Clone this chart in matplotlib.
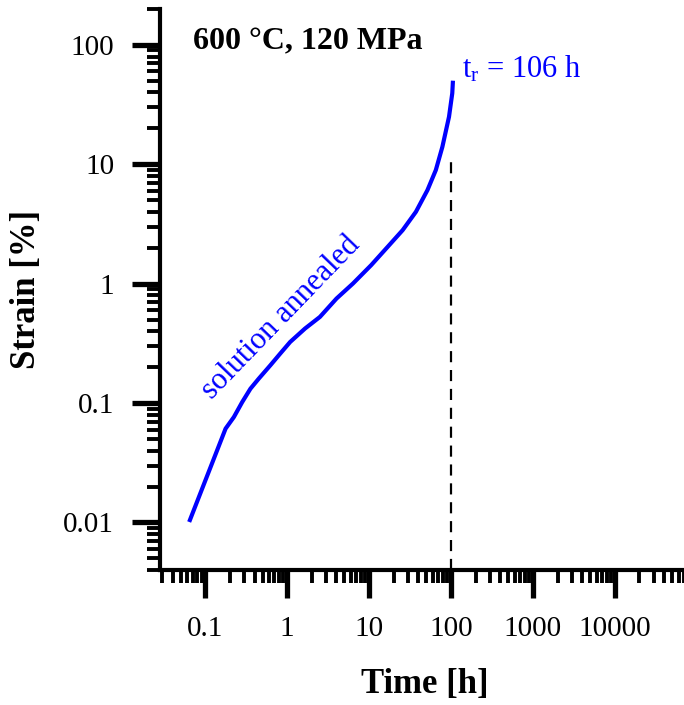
import numpy as np
import matplotlib
matplotlib.use("Agg")
import matplotlib.pyplot as plt
from matplotlib.ticker import FixedLocator, LogLocator, NullFormatter

plt.rcParams['font.family'] = ['Liberation Serif', 'DejaVu Serif']
plt.rcParams['mathtext.fontset'] = 'custom'
plt.rcParams['mathtext.rm'] = 'Liberation Serif'

# creep curve: time [h], strain [%]
time_h = [0.0636, 0.177, 0.2235, 0.2825, 0.356, 0.449, 0.622,
          0.823, 1.087, 1.65, 2.51, 4.0, 6.36, 10.6, 16.9, 25.7, 37.3, 51.6,
          65.3, 78.5, 94.6, 103.7, 105.7]
strain = [0.0101, 0.0611, 0.0764, 0.102, 0.132, 0.160, 0.207,
          0.260, 0.325, 0.421, 0.527, 0.751, 1.004, 1.43, 2.04, 2.81, 4.0, 6.08,
          8.95, 14.0, 25.0, 39.4, 50.2]
rupture_time = 100
rupture_line_top = 12

x_ticks = [0.1, 1, 10, 100, 1000, 10000]
x_labels = ['0.1', '1', '10', '100', '1000', '10000']
y_ticks = [0.01, 0.1, 1, 10, 100]
y_labels = ['0.01', '0.1', '1', '10', '100']

fig = plt.figure(figsize=(6.84, 7.05), dpi=100)
ax = fig.add_axes([0.2339, 0.1915, 0.7661, 0.7957])

ax.plot(time_h, strain, color='#0000ff', lw=3, solid_capstyle='butt',
        solid_joinstyle='round')
ax.plot([rupture_time, rupture_time], [0.004, rupture_line_top], color='black',
        lw=1.6, dashes=(5, 3.5))

ax.set_xscale('log')
ax.set_yscale('log')
ax.set_xlim(0.028, 7e4)
ax.set_ylim(0.004, 200)

ax.xaxis.set_major_locator(FixedLocator(x_ticks))
ax.set_xticklabels(x_labels)
ax.yaxis.set_major_locator(FixedLocator(y_ticks))
ax.set_yticklabels(y_labels)
ax.xaxis.set_minor_locator(LogLocator(base=10, subs=np.arange(2, 10), numticks=20))
ax.yaxis.set_minor_locator(LogLocator(base=10, subs=np.arange(2, 10), numticks=20))
ax.xaxis.set_minor_formatter(NullFormatter())
ax.yaxis.set_minor_formatter(NullFormatter())

for s in ['top', 'right']:
    ax.spines[s].set_visible(False)
for s in ['left', 'bottom']:
    ax.spines[s].set_linewidth(3)

ax.tick_params(which='major', direction='out', length=20, width=3.8,
               labelsize=21, pad=13)
ax.tick_params(which='minor', direction='out', length=9.5, width=2.8)

ax.set_xlabel('Time [h]', fontsize=25, fontweight='bold')
ax.set_ylabel('Strain [%]', fontsize=25, fontweight='bold')
ax.xaxis.set_label_coords(0.506, -0.175)
ax.yaxis.set_label_coords(-0.223, 0.5)

ax.text(0.063, 0.941, '600 °C, 120 MPa', transform=ax.transAxes,
        fontsize=23, fontweight='bold', ha='left', va='center')
ax.text(136, 62, r'$\mathrm{t_r}$ = 106 h', color='#0000ff', fontsize=22,
        ha='left', va='center')
ax.text(0.845, 0.52, 'solution annealed', color='#0000ff', fontsize=22,
        rotation=46, ha='center', va='center', rotation_mode='anchor')

fig.savefig('out.png', dpi=100)
